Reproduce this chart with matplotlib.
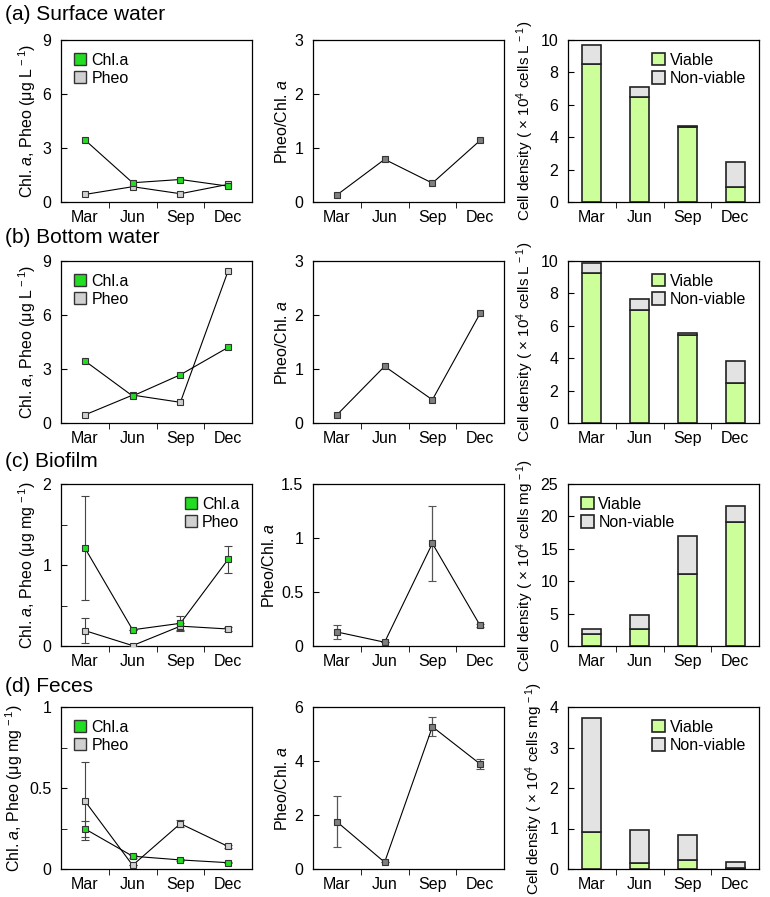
import matplotlib.pyplot as plt
from matplotlib.ticker import MultipleLocator, FuncFormatter
import numpy as np

plt.rcParams['font.family'] = ['Liberation Sans', 'DejaVu Sans']
plt.rcParams['font.size'] = 11.5
plt.rcParams['mathtext.fontset'] = 'custom'
plt.rcParams['mathtext.it'] = 'Liberation Sans:italic'
plt.rcParams['mathtext.rm'] = 'Liberation Sans'

months = ['Mar', 'Jun', 'Sep', 'Dec']
panels = ['(a) Surface water', '(b) Bottom water', '(c) Biofilm', '(d) Feces']

# pigment concentrations (row order: surface, bottom, biofilm, feces)
chl = [[3.45, 1.07, 1.25, 0.88],
       [3.45, 1.5, 2.68, 4.2],
       [1.21, 0.2, 0.28, 1.07],
       [0.248, 0.079, 0.056, 0.039]]
chl_err = [None, None,
           [0.64, 0.0, 0.09, 0.17],
           [0.05, 0.01, 0.005, 0.005]]
pheo = [[0.42, 0.85, 0.46, 0.98],
        [0.45, 1.55, 1.15, 8.45],
        [0.19, 0.005, 0.245, 0.21],
        [0.42, 0.023, 0.28, 0.139]]
pheo_err = [None, None,
            [0.15, 0.0, 0.045, 0.02],
            [0.24, 0.0, 0.02, 0.01]]

ratio = [[0.13, 0.79, 0.35, 1.14],
         [0.15, 1.05, 0.43, 2.03],
         [0.13, 0.035, 0.95, 0.19],
         [1.75, 0.25, 5.27, 3.89]]
ratio_err = [None, None,
             [0.065, 0.0, 0.35, 0.01],
             [0.95, 0.0, 0.36, 0.17]]

viable = [[8.5, 6.5, 4.6, 0.95],
          [9.25, 6.95, 5.45, 2.45],
          [1.85, 2.55, 11.1, 19.2],
          [0.91, 0.15, 0.21, 0.03]]
total = [[9.7, 7.1, 4.7, 2.45],
         [9.85, 7.65, 5.55, 3.85],
         [2.6, 4.85, 16.9, 21.6],
         [3.73, 0.97, 0.84, 0.17]]

conc_unit = ['L', 'L', 'mg', 'mg']
conc_ylim = [(0, 9, 3, None), (0, 9, 3, None), (0, 2, 1, 0.5), (0, 1, 0.5, 0.25)]
ratio_ylim = [(0, 3, 1), (0, 3, 1), (0, 1.5, 0.5), (0, 6, 2)]
bar_ylim = [(0, 10, 2), (0, 10, 2), (0, 25, 5), (0, 4, 1)]
cell_unit = ['L', 'L', 'mg', 'mg']

W, H = 770, 897
fig = plt.figure(figsize=(W / 100, H / 100), dpi=100)
lefts = [61, 313, 568]
tops = [40, 261, 484, 707]
aw, ah = 191, 162
title_y = [15, 237, 461, 686]

green = '#22dd22'
light_gray = '#d0d0d0'
dark_gray = '#7f7f7f'
viable_c = '#ccff99'
nonviable_c = '#e3e3e3'

fmt = FuncFormatter(lambda v, p: f'{v:g}')
x = np.arange(4)


def style_axis(ax):
    ax.set_xlim(-0.5, 3.5)
    ax.set_xticks(x)
    ax.set_xticklabels(months)
    ax.set_xticks([0.5, 1.5, 2.5], minor=True)
    ax.tick_params(axis='x', which='major', length=0, pad=6)
    ax.tick_params(axis='x', which='minor', length=4, direction='out')
    ax.tick_params(axis='y', which='both', direction='in', length=4, pad=7)
    ax.yaxis.set_major_formatter(fmt)
    for s in ax.spines.values():
        s.set_linewidth(0.9)


for r in range(4):
    fig.text(5 / W, 1 - title_y[r] / H, panels[r], fontsize=15, va='center', ha='left')
    axs = [fig.add_axes([l / W, 1 - (tops[r] + ah) / H, aw / W, ah / H]) for l in lefts]

    # pigments
    ax = axs[0]
    ax.errorbar(x, pheo[r], yerr=pheo_err[r], color='black', lw=0.8, marker='s', ms=4,
                mfc=light_gray, mec='#333333', mew=0.8, ecolor='#444444', elinewidth=0.8,
                capsize=3, zorder=3)
    ax.errorbar(x, chl[r], yerr=chl_err[r], color='black', lw=0.8, marker='s', ms=4,
                mfc=green, mec='#333333', mew=0.8, ecolor='#444444', elinewidth=0.8,
                capsize=3, zorder=3)
    lo, hi, step, minor = conc_ylim[r]
    ax.set_ylim(lo, hi)
    ax.yaxis.set_major_locator(MultipleLocator(step))
    if minor:
        ax.yaxis.set_minor_locator(MultipleLocator(minor))
    style_axis(ax)
    ax.set_ylabel(f'Chl. $a$, Pheo (μg {conc_unit[r]}$^{{\\,-1}}$)', labelpad=3)
    h2 = [plt.Line2D([], [], ls='none', marker='s', ms=9, mfc=green, mec='#333333'),
          plt.Line2D([], [], ls='none', marker='s', ms=9, mfc=light_gray, mec='#333333')]
    ax.legend(h2, ['Chl.a', 'Pheo'], loc='upper right' if r == 2 else 'upper left',
              frameon=False, handlelength=0.8, handletextpad=0.3, labelspacing=0.2,
              borderaxespad=0.4)

    # ratio
    ax = axs[1]
    ax.errorbar(x, ratio[r], yerr=ratio_err[r], color='black', lw=0.8, marker='s', ms=5,
                mfc=dark_gray, mec='#333333', mew=0.8, ecolor='#555555', elinewidth=0.9,
                capsize=3, zorder=3)
    lo, hi, step = ratio_ylim[r]
    ax.set_ylim(lo, hi)
    ax.yaxis.set_major_locator(MultipleLocator(step))
    style_axis(ax)
    ax.set_ylabel('Pheo/Chl. $a$', labelpad=3)

    # cell density
    ax = axs[2]
    nonv = np.array(total[r]) - np.array(viable[r])
    ax.bar(x, viable[r], 0.4, color=viable_c, edgecolor='#222222', lw=1.2, label='Viable', zorder=2)
    ax.bar(x, nonv, 0.4, bottom=viable[r], color=nonviable_c, edgecolor='#222222', lw=1.2,
           label='Non-viable', zorder=2)
    lo, hi, step = bar_ylim[r]
    ax.set_ylim(lo, hi)
    ax.yaxis.set_major_locator(MultipleLocator(step))
    style_axis(ax)
    ax.set_ylabel(f'Cell density ( × 10$^4$ cells {cell_unit[r]}$^{{\\,-1}}$)', fontsize=11, labelpad=3)
    ax.legend(loc='upper left' if r == 2 else 'upper right', frameon=False,
              handlelength=0.8, handleheight=0.8, handletextpad=0.3, labelspacing=0.2,
              borderaxespad=0.4)

fig.savefig('out.png', dpi=100)
